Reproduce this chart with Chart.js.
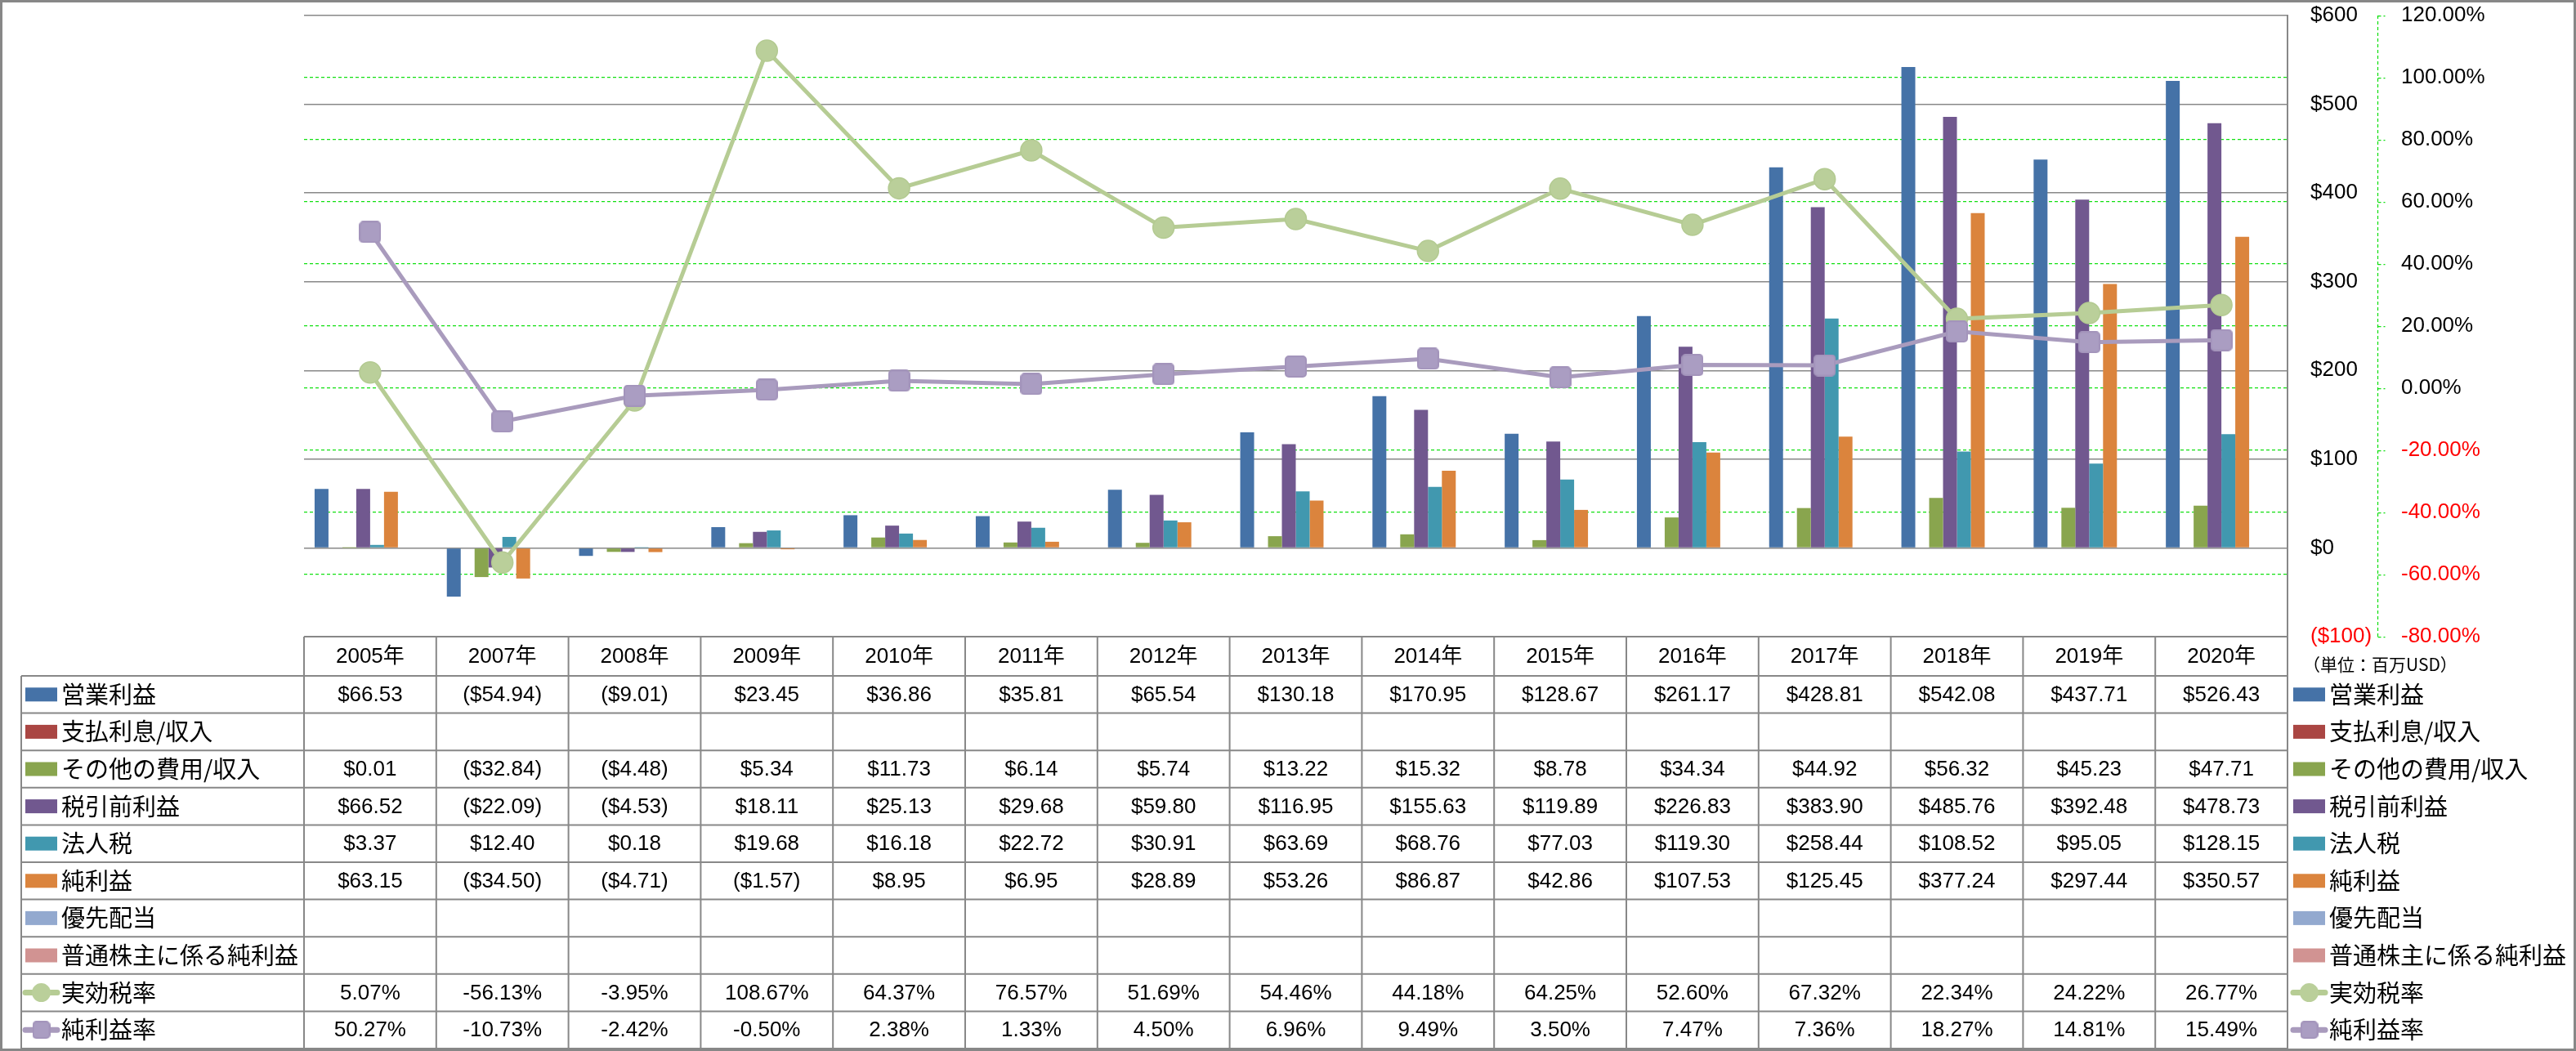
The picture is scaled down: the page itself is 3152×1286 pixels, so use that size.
<!DOCTYPE html>
<html lang="ja">
<head>
<meta charset="utf-8">
<title>営業利益・純利益の推移</title>
<script src="https://cdn.jsdelivr.net/npm/chart.js@4.4.0/dist/chart.umd.min.js"></script>
<style>
    html, body { margin: 0; padding: 0; background: #ffffff; }
    canvas { display: block; }
</style>
</head>
<body>
<canvas id="graficoResultados" width="3152" height="1286"></canvas>
<script>
// Datos (millones de USD y porcentajes)
const anios = ['2005年', '2007年', '2008年', '2009年', '2010年', '2011年', '2012年', '2013年', '2014年', '2015年', '2016年', '2017年', '2018年', '2019年', '2020年'];

const utilidadOperativa = [66.53, -54.94, -9.01, 23.45, 36.86, 35.81, 65.54, 130.18, 170.95, 128.67, 261.17, 428.81, 542.08, 437.71, 526.43];
const interesesPagados = [null, null, null, null, null, null, null, null, null, null, null, null, null, null, null];
const otrosGastos = [0.01, -32.84, -4.48, 5.34, 11.73, 6.14, 5.74, 13.22, 15.32, 8.78, 34.34, 44.92, 56.32, 45.23, 47.71];
const utilidadAntesImpuestos = [66.52, -22.09, -4.53, 18.11, 25.13, 29.68, 59.80, 116.95, 155.63, 119.89, 226.83, 383.90, 485.76, 392.48, 478.73];
const impuestoSociedades = [3.37, 12.40, 0.18, 19.68, 16.18, 22.72, 30.91, 63.69, 68.76, 77.03, 119.30, 258.44, 108.52, 95.05, 128.15];
const utilidadNeta = [63.15, -34.50, -4.71, -1.57, 8.95, 6.95, 28.89, 53.26, 86.87, 42.86, 107.53, 125.45, 377.24, 297.44, 350.57];
const dividendosPreferentes = [null, null, null, null, null, null, null, null, null, null, null, null, null, null, null];
const utilidadAccionistas = [null, null, null, null, null, null, null, null, null, null, null, null, null, null, null];
const tasaEfectiva = [5.07, -56.13, -3.95, 108.67, 64.37, 76.57, 51.69, 54.46, 44.18, 64.25, 52.60, 67.32, 22.34, 24.22, 26.77];
const margenNeto = [50.27, -10.73, -2.42, -0.50, 2.38, 1.33, 4.50, 6.96, 9.49, 3.50, 7.47, 7.36, 18.27, 14.81, 15.49];

const nombresSeries = ['営業利益', '支払利息/収入', 'その他の費用/収入', '税引前利益', '法人税', '純利益', '優先配当', '普通株主に係る純利益', '実効税率', '純利益率'];
const coloresSeries = ['#4572A7', '#AA4643', '#89A54E', '#71588F', '#4198AF', '#DB843D', '#93A9CF', '#D19392', '#B6CC94', '#A99BBD'];

// Escalas: [mínimo, máximo, paso]
const ejeDolares = [-100, 600, 100];
const ejePorcentaje = [-80, 120, 20];
const textoUnidad = '（単位：百万USD）';

// Estilos generales
const fuenteNumeros = "'Liberation Sans', 'Noto Sans CJK JP', sans-serif";
const fuenteJapones = "'Noto Sans CJK JP', sans-serif";
const grisLineas = '#888888';
const verdeGuia = '#11e011';
const rojoNegativo = '#ff0000';
const transparente = 'rgba(0,0,0,0)';

// Formatos de texto
function formatoDolar(valor) {
    if (valor === null || valor === undefined) return '';
    if (valor < 0) return '($' + Math.abs(valor).toFixed(2) + ')';
    return '$' + valor.toFixed(2);
}

function formatoDolarEje(valor) {
    if (valor < 0) return '($' + Math.abs(valor) + ')';
    return '$' + valor;
}

function formatoPorcentaje(valor) {
    if (valor === null || valor === undefined) return '';
    return valor.toFixed(2) + '%';
}

// Marcador cuadrado con esquinas redondeadas para 純利益率
function crearMarcadorCuadrado(lado, relleno, borde) {
    const lienzo = document.createElement('canvas');
    lienzo.width = lado;
    lienzo.height = lado;
    const g = lienzo.getContext('2d');
    g.fillStyle = relleno;
    g.strokeStyle = borde;
    g.lineWidth = 2;
    g.beginPath();
    if (g.roundRect) {
        g.roundRect(1, 1, lado - 2, lado - 2, 4);
    } else {
        g.rect(1, 1, lado - 2, lado - 2);
    }
    g.fill();
    g.stroke();
    return lienzo;
}

const marcadorCuadrado = crearMarcadorCuadrado(27, '#AA9DC2', '#A394BB');
const marcadorCuadradoLeyenda = crearMarcadorCuadrado(22, '#AA9DC2', '#A394BB');

// Filas de la tabla de datos (debajo del gráfico)
const filasTabla = [
    { nombre: nombresSeries[0], color: coloresSeries[0], tipo: 'barra', valores: utilidadOperativa, formato: formatoDolar },
    { nombre: nombresSeries[1], color: coloresSeries[1], tipo: 'barra', valores: interesesPagados, formato: formatoDolar },
    { nombre: nombresSeries[2], color: coloresSeries[2], tipo: 'barra', valores: otrosGastos, formato: formatoDolar },
    { nombre: nombresSeries[3], color: coloresSeries[3], tipo: 'barra', valores: utilidadAntesImpuestos, formato: formatoDolar },
    { nombre: nombresSeries[4], color: coloresSeries[4], tipo: 'barra', valores: impuestoSociedades, formato: formatoDolar },
    { nombre: nombresSeries[5], color: coloresSeries[5], tipo: 'barra', valores: utilidadNeta, formato: formatoDolar },
    { nombre: nombresSeries[6], color: coloresSeries[6], tipo: 'barra', valores: dividendosPreferentes, formato: formatoDolar },
    { nombre: nombresSeries[7], color: coloresSeries[7], tipo: 'barra', valores: utilidadAccionistas, formato: formatoDolar },
    { nombre: nombresSeries[8], color: coloresSeries[8], tipo: 'circulo', valores: tasaEfectiva, formato: formatoPorcentaje },
    { nombre: nombresSeries[9], color: coloresSeries[9], tipo: 'cuadrado', valores: margenNeto, formato: formatoPorcentaje }
];

// Dibuja la clave de leyenda (rectángulo o línea con marcador)
function dibujarClave(ctx, fila, xInicio, ancho, yCentro) {
    ctx.save();
    if (fila.tipo === 'barra') {
        ctx.fillStyle = fila.color;
        ctx.fillRect(xInicio, yCentro - 8.5, ancho, 17);
    } else {
        ctx.strokeStyle = fila.color;
        ctx.lineWidth = 7;
        ctx.lineCap = 'round';
        ctx.beginPath();
        ctx.moveTo(xInicio, yCentro);
        ctx.lineTo(xInicio + ancho, yCentro);
        ctx.stroke();
        const xMarca = xInicio + ancho / 2;
        if (fila.tipo === 'circulo') {
            ctx.fillStyle = '#BACF9A';
            ctx.beginPath();
            ctx.arc(xMarca, yCentro, 11.5, 0, Math.PI * 2);
            ctx.fill();
        } else {
            ctx.drawImage(marcadorCuadradoLeyenda, xMarca - 11, yCentro - 11);
        }
    }
    ctx.restore();
}

// Plugin: fondo, tabla de datos, leyenda derecha, eje secundario punteado y marco
const pluginTablaDatos = {
    id: 'tablaDatos',
    beforeDraw(chart) {
        const ctx = chart.ctx;
        ctx.save();
        ctx.fillStyle = '#ffffff';
        ctx.fillRect(0, 0, chart.width, chart.height);
        ctx.restore();
    },
    afterDraw(chart) {
        const ctx = chart.ctx;
        const area = chart.chartArea;
        const escalaX = chart.scales.x;
        const escalaPct = chart.scales.y1;
        const anchoColumna = (area.right - area.left) / anios.length;
        const altoCabecera = 48;
        const altoFila = 45.6;
        const topeTabla = area.bottom;
        const inicioFilas = topeTabla + altoCabecera;
        const finTabla = inicioFilas + altoFila * filasTabla.length;
        const bordeIzquierdo = 26;

        ctx.save();

        // Línea del eje secundario y sus marcas (punteadas verdes)
        const xEje = escalaPct.left + 0.5;
        ctx.strokeStyle = verdeGuia;
        ctx.lineWidth = 1.25;
        ctx.setLineDash([4, 3]);
        ctx.beginPath();
        ctx.moveTo(xEje, area.top);
        ctx.lineTo(xEje, area.bottom);
        escalaPct.ticks.forEach(marca => {
            const y = Math.round(escalaPct.getPixelForValue(marca.value)) + 0.5;
            ctx.moveTo(xEje, y);
            ctx.lineTo(xEje + 9, y);
        });
        ctx.stroke();
        ctx.setLineDash([]);

        // Cuadrícula de la tabla
        ctx.strokeStyle = grisLineas;
        ctx.lineWidth = 2;
        ctx.beginPath();
        ctx.moveTo(area.left, topeTabla);
        ctx.lineTo(area.right, topeTabla);
        for (let i = 0; i <= filasTabla.length; i++) {
            const y = inicioFilas + i * altoFila;
            ctx.moveTo(bordeIzquierdo, y);
            ctx.lineTo(area.right, y);
        }
        for (let k = 0; k <= anios.length; k++) {
            const x = area.left + k * anchoColumna;
            ctx.moveTo(x, topeTabla);
            ctx.lineTo(x, finTabla);
        }
        ctx.moveTo(bordeIzquierdo, inicioFilas);
        ctx.lineTo(bordeIzquierdo, finTabla);
        ctx.stroke();

        // Cabecera con los años
        ctx.fillStyle = '#000000';
        ctx.textAlign = 'center';
        ctx.textBaseline = 'middle';
        ctx.font = '26px ' + fuenteNumeros;
        anios.forEach((anio, i) => {
            ctx.fillText(anio, escalaX.getPixelForValue(i), topeTabla + altoCabecera / 2 + 1);
        });

        // Filas con valores y leyendas
        filasTabla.forEach((fila, r) => {
            const yCentro = inicioFilas + r * altoFila + altoFila / 2;

            ctx.font = '26px ' + fuenteNumeros;
            ctx.textAlign = 'center';
            ctx.fillStyle = '#000000';
            fila.valores.forEach((valor, i) => {
                const texto = fila.formato(valor);
                if (texto) ctx.fillText(texto, escalaX.getPixelForValue(i), yCentro + 1);
            });

            // Leyenda izquierda
            dibujarClave(ctx, fila, 31, 39, yCentro);
            ctx.font = '29px ' + fuenteJapones;
            ctx.textAlign = 'left';
            ctx.fillStyle = '#000000';
            ctx.fillText(fila.nombre, 75, yCentro);

            // Leyenda derecha
            dibujarClave(ctx, fila, 2806, 39, yCentro);
            ctx.fillText(fila.nombre, 2850, yCentro);
        });

        // Unidad
        ctx.font = '21px ' + fuenteJapones;
        ctx.textAlign = 'left';
        ctx.fillStyle = '#000000';
        ctx.fillText(textoUnidad, 2818, topeTabla + 34);

        // Marco exterior
        ctx.strokeStyle = '#878787';
        ctx.lineWidth = 3;
        ctx.strokeRect(1.5, 1.5, chart.width - 3, chart.height - 3);

        ctx.restore();
    }
};

// Conjuntos de datos del gráfico
const conjuntosBarras = [
    utilidadOperativa, interesesPagados, otrosGastos, utilidadAntesImpuestos,
    impuestoSociedades, utilidadNeta, dividendosPreferentes, utilidadAccionistas
].map((valores, i) => ({
    type: 'bar',
    label: nombresSeries[i],
    data: valores,
    backgroundColor: coloresSeries[i],
    borderWidth: 0,
    yAxisID: 'y',
    order: 5,
    categoryPercentage: 0.84,
    barPercentage: 1.0
}));

const conjuntosLineas = [
    {
        type: 'line',
        label: nombresSeries[8],
        data: tasaEfectiva,
        borderColor: coloresSeries[8],
        borderWidth: 5,
        pointStyle: 'circle',
        pointRadius: 13,
        pointBackgroundColor: '#BACF9A',
        pointBorderColor: '#B3CA91',
        pointBorderWidth: 1.5,
        tension: 0,
        yAxisID: 'y1',
        order: 2
    },
    {
        type: 'line',
        label: nombresSeries[9],
        data: margenNeto,
        borderColor: coloresSeries[9],
        borderWidth: 5,
        pointStyle: marcadorCuadrado,
        pointRadius: 13,
        pointBackgroundColor: '#AA9DC2',
        pointBorderColor: '#A394BB',
        tension: 0,
        yAxisID: 'y1',
        order: 1
    }
];

function crearGrafico() {
    const ctx = document.getElementById('graficoResultados').getContext('2d');
    window.graficoResultados = new Chart(ctx, {
        type: 'bar',
        data: {
            labels: anios,
            datasets: conjuntosBarras.concat(conjuntosLineas)
        },
        options: {
            responsive: false,
            devicePixelRatio: 1,
            animation: false,
            layout: {
                autoPadding: false,
                padding: { left: 372, top: 19, right: 3, bottom: 507 }
            },
            plugins: {
                legend: { display: false },
                tooltip: { enabled: false },
                title: { display: false }
            },
            scales: {
                x: {
                    display: false,
                    offset: true,
                    grid: { display: false }
                },
                y: {
                    position: 'right',
                    weight: 0,
                    min: ejeDolares[0],
                    max: ejeDolares[1],
                    ticks: {
                        stepSize: ejeDolares[2],
                        padding: 0,
                        font: { family: fuenteNumeros, size: 26 },
                        color: c => (c.tick && c.tick.value < 0) ? rojoNegativo : '#000000',
                        callback: valor => formatoDolarEje(valor)
                    },
                    // marcas invisibles: sólo separan las etiquetas del eje
                    grid: { color: grisLineas, lineWidth: 1.5, drawTicks: true, tickLength: 28, tickColor: transparente },
                    border: { display: true, color: grisLineas, width: 2 },
                    afterFit(escala) { escala.width = 110; }
                },
                y1: {
                    position: 'right',
                    weight: 1,
                    min: ejePorcentaje[0],
                    max: ejePorcentaje[1],
                    ticks: {
                        stepSize: ejePorcentaje[2],
                        padding: 0,
                        font: { family: fuenteNumeros, size: 26 },
                        color: c => (c.tick && c.tick.value < 0) ? rojoNegativo : '#000000',
                        callback: valor => formatoPorcentaje(valor)
                    },
                    grid: {
                        color: c => (c.tick && (c.tick.value === ejePorcentaje[0] || c.tick.value === ejePorcentaje[1])) ? transparente : verdeGuia,
                        lineWidth: 1.25,
                        drawTicks: true,
                        tickLength: 29,
                        tickColor: transparente
                    },
                    border: { display: false, dash: [4, 3] },
                    afterFit(escala) { escala.width = 240; }
                }
            }
        },
        plugins: [pluginTablaDatos]
    });
}

document.addEventListener('DOMContentLoaded', crearGrafico);
</script>
</body>
</html>
